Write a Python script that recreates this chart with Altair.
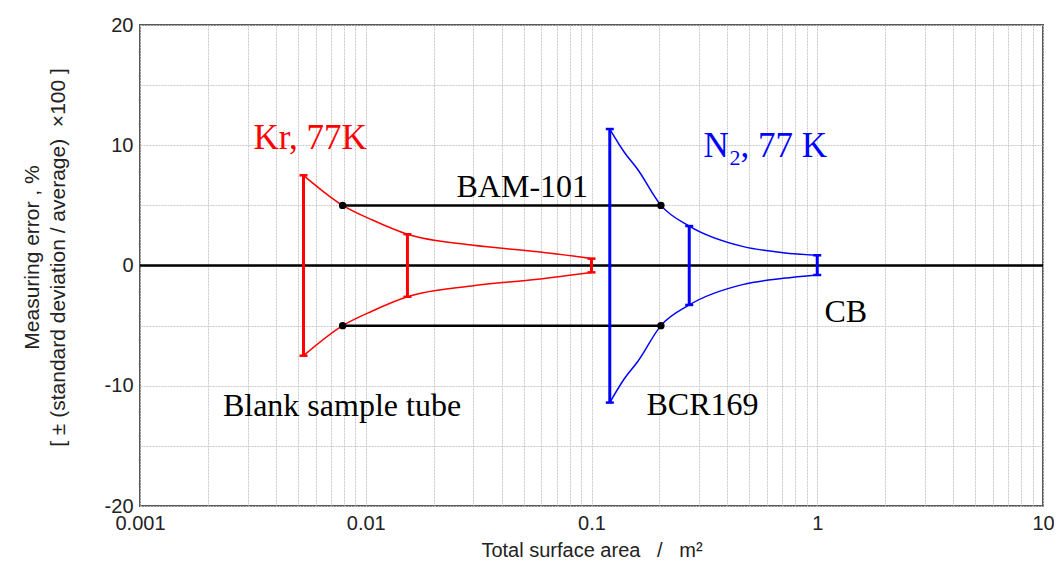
import altair as alt
import pandas as pd

# ---- data ----
kr_x = [0.0053, 0.0079, 0.0107, 0.0153, 0.0294, 0.0578, 0.101]
kr_hi = [7.5, 5.0, 3.78, 2.6, 1.70, 1.15, 0.57]
kr_lo = [-7.5, -5.0, -3.78, -2.6, -1.70, -1.15, -0.57]

n2_x = [0.1205, 0.14, 0.16, 0.203, 0.271, 0.471, 0.706, 1.0]
n2_hi = [11.35, 9.4, 8.0, 5.0, 3.28, 1.57, 1.07, 0.85]
n2_lo = [-11.4, -9.4, -8.0, -5.0, -3.28, -1.57, -1.07, -0.79]

kr_bar_x = [0.0053, 0.0153, 0.100]
kr_bar_hi = [7.5, 2.6, 0.57]
kr_bar_lo = [-7.5, -2.6, -0.57]

n2_bar_x = [0.1205, 0.271, 1.0]
n2_bar_hi = [11.35, 3.28, 0.85]
n2_bar_lo = [-11.4, -3.28, -0.79]

ref_x1 = [0.0079, 0.0079]
ref_x2 = [0.203, 0.203]
ref_y = [5.0, -5.0]

x_ticks = [0.001, 0.01, 0.1, 1, 10]
x_grid = [m * 10 ** e for e in range(-3, 1) for m in range(1, 10)] + [10]
y_grid = [-20, -15, -10, -5, 0, 5, 10, 15, 20]

labels_text = ["BAM-101", "Blank sample tube", "BCR169", "CB"]
labels_x = [0.02523, 0.00233, 0.1752, 1.077]
labels_y = [5.72, -12.5, -12.45, -4.67]

NB = "\u00a0"
x_title = "Total surface area" + NB * 3 + "/" + NB * 3 + "m²"
y_title = ["Measuring error , %", "[" + NB + "±" + NB + "(standard deviation / average)" + NB * 2 + "×100" + NB + "]"]

RED = "#ff0000"
BLUE = "#0000ff"
SANS = "Liberation Sans"
SERIF = "Liberation Serif"

# ---- tables ----
rows = []
for name, xs, his, los in [("Kr", kr_x, kr_hi, kr_lo), ("N2", n2_x, n2_hi, n2_lo)]:
    for x, h in zip(xs, his):
        rows.append({"series": name, "grp": name + "hi", "x": x, "y": h})
    for x, l in zip(xs, los):
        rows.append({"series": name, "grp": name + "lo", "x": x, "y": l})
curves = pd.DataFrame(rows)

brow = []
for name, xs, his, los in [("Kr", kr_bar_x, kr_bar_hi, kr_bar_lo), ("N2", n2_bar_x, n2_bar_hi, n2_bar_lo)]:
    for x, h, l in zip(xs, his, los):
        brow.append({"series": name, "x": x, "y": l, "y2": h})
bars = pd.DataFrame(brow)
caps = pd.concat([
    bars[["series", "x", "y"]],
    bars[["series", "x", "y2"]].rename(columns={"y2": "y"}),
])

refs = pd.DataFrame({"x": ref_x1, "x2": ref_x2, "y": ref_y})
dots = pd.DataFrame({"x": ref_x1 + ref_x2, "y": ref_y + ref_y})
zero = pd.DataFrame({"y": [0]})
labels = pd.DataFrame({"text": labels_text, "x": labels_x, "y": labels_y})

color = alt.Color("series:N", scale=alt.Scale(domain=["Kr", "N2"], range=[RED, BLUE]), legend=None)

xscale = alt.Scale(type="log", domain=[0.001, 10])
yscale = alt.Scale(domain=[-20, 20])

xaxis = alt.Axis(
    values=x_grid,
    labelExpr="abs(log(datum.value)/LN10 - round(log(datum.value)/LN10)) < 1e-6 ? format(datum.value, '~g') : ''",
    labelOverlap=False, labelFlush=False,
    title=x_title,
    grid=True, gridColor="#c8c8c8", gridDash=[2, 1], gridWidth=1,
    ticks=False, domain=False,
    labelFont=SANS, labelFontSize=20, labelColor="#222222", labelPadding=7,
    titleFont=SANS, titleFontSize=20, titleFontWeight="normal", titleColor="#222222", titlePadding=7,
)
yaxis = alt.Axis(
    values=y_grid,
    labelExpr="datum.value % 10 == 0 ? replace(datum.label, '\u2212', '-') : ''",
    labelOverlap=False, labelFlush=False,
    title=y_title,
    grid=True, gridColor="#c8c8c8", gridDash=[2, 1], gridWidth=1,
    ticks=False, domain=False,
    labelFont=SANS, labelFontSize=20, labelColor="#222222", labelPadding=7,
    titleFont=SANS, titleFontSize=21, titleFontWeight="normal", titleColor="#222222", titlePadding=36,
    titleLineHeight=26, titleY=232,
)

X = alt.X("x:Q", scale=xscale, axis=xaxis)
Y = alt.Y("y:Q", scale=yscale, axis=yaxis)

base_lines = alt.Chart(curves).mark_line(interpolate="monotone", strokeWidth=1.5).encode(
    x=X, y=Y, color=color, detail="grp:N", order="x:Q"
)
zero_line = alt.Chart(zero).mark_rule(color="black", strokeWidth=2.5).encode(y=alt.Y("y:Q", scale=yscale))
ref_lines = alt.Chart(refs).mark_rule(color="black", strokeWidth=2.5).encode(
    x=alt.X("x:Q", scale=xscale), x2="x2:Q", y=alt.Y("y:Q", scale=yscale)
)
ref_dots = alt.Chart(dots).mark_circle(color="black", size=55, opacity=1).encode(
    x=alt.X("x:Q", scale=xscale), y=alt.Y("y:Q", scale=yscale)
)
bar_rules = alt.Chart(bars).mark_rule(strokeWidth=3).encode(
    x=alt.X("x:Q", scale=xscale), y=alt.Y("y:Q", scale=yscale), y2="y2:Q", color=color
)
bar_caps = alt.Chart(caps).mark_tick(orient="horizontal", size=8, thickness=2.5, opacity=1).encode(
    x=alt.X("x:Q", scale=xscale), y=alt.Y("y:Q", scale=yscale), color=color
)
text_black = alt.Chart(labels).mark_text(font=SERIF, fontSize=32, align="left", baseline="alphabetic", color="black").encode(
    x=alt.X("x:Q", scale=xscale), y=alt.Y("y:Q", scale=yscale), text="text:N"
)

kr_label = alt.Chart(pd.DataFrame({"x": [0.00318], "y": [9.66], "t": ["Kr, 77K"]})).mark_text(
    font=SERIF, fontSize=35, align="left", baseline="alphabetic", color=RED
).encode(x=alt.X("x:Q", scale=xscale), y=alt.Y("y:Q", scale=yscale), text="t:N")

n2_df = pd.DataFrame({"x": [0.3136], "y": [9.06]})
n_main = alt.Chart(n2_df).mark_text(font=SERIF, fontSize=35, align="left", baseline="alphabetic", color=BLUE, text="N").encode(
    x=alt.X("x:Q", scale=xscale), y=alt.Y("y:Q", scale=yscale)
)
n_sub = alt.Chart(n2_df).mark_text(font=SERIF, fontSize=22, align="left", baseline="alphabetic", color=BLUE, text="2", dx=26, dy=8).encode(
    x=alt.X("x:Q", scale=xscale), y=alt.Y("y:Q", scale=yscale)
)
n_rest = alt.Chart(n2_df).mark_text(font=SERIF, fontSize=35, align="left", baseline="alphabetic", color=BLUE, text=", 77 K", dx=37).encode(
    x=alt.X("x:Q", scale=xscale), y=alt.Y("y:Q", scale=yscale)
)

chart = alt.layer(
    base_lines, zero_line, ref_lines, ref_dots, bar_rules, bar_caps,
    text_black, kr_label, n_main, n_sub, n_rest
).properties(
    width=903, height=481,
    autosize=alt.AutoSizeParams(type="none"),
    padding={"left": 132, "top": 17, "right": 11, "bottom": 58},
).configure_view(stroke="#595959", strokeWidth=2)

chart.save("out.html", embed_options={"renderer": "svg", "actions": False})
